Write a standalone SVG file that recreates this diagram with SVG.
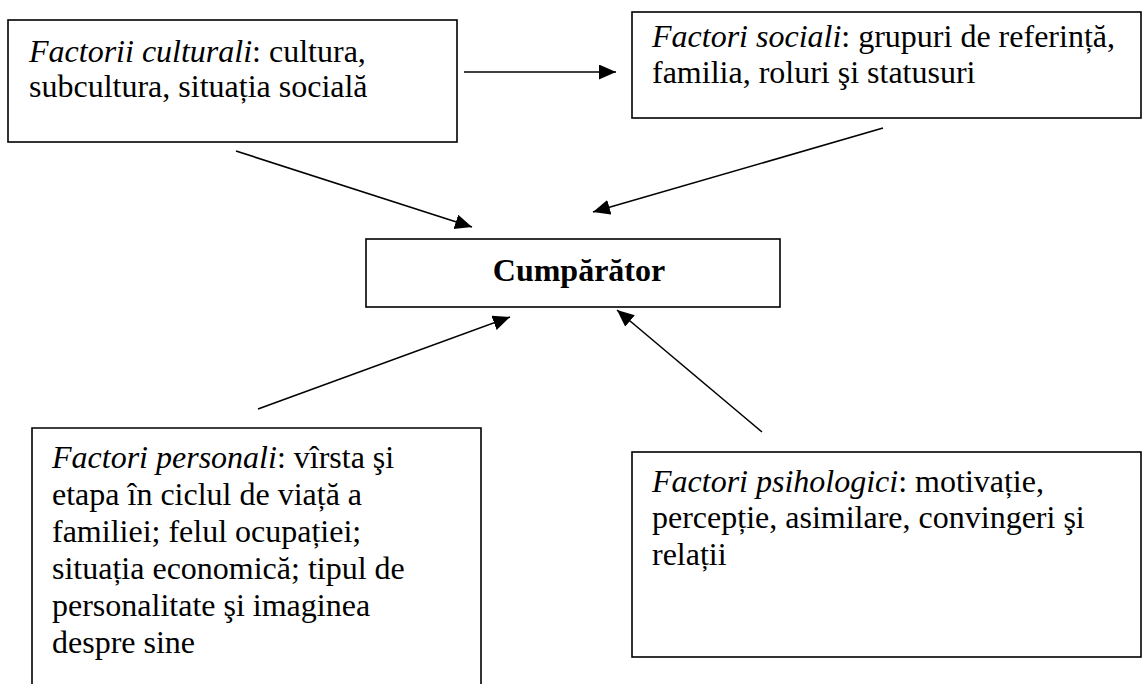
<svg xmlns="http://www.w3.org/2000/svg" width="1146" height="684" viewBox="0 0 1146 684">
<style>
.box{fill:#fff;stroke:#000;stroke-width:1.6}
.t{font-family:"Liberation Serif","Times New Roman",serif;font-size:32px;fill:#000}
.i{font-style:italic}
.b{font-weight:bold}
.c{stroke:#000;stroke-width:1.6;fill:none}
</style>
<defs>
<marker id="ah" markerUnits="userSpaceOnUse" markerWidth="18" markerHeight="16" refX="17" refY="7.5" orient="auto">
<path d="M0,0 L17,7.5 L0,15 z" fill="#000"/>
</marker>
</defs>
<rect width="1146" height="684" fill="#fff"/>
<g id="culturali">
<rect class="box" x="8" y="20" width="449" height="122"/>
<text class="t" x="29" y="62"><tspan class="i">Factorii culturali</tspan>: cultura,</text>
<text class="t" x="29" y="97">subcultura, situația socială</text>
</g>
<g id="sociali">
<rect class="box" x="632" y="12" width="509" height="106"/>
<text class="t" x="652" y="47"><tspan class="i">Factori sociali</tspan>: grupuri de referință,</text>
<text class="t" x="652" y="83">familia, roluri şi statusuri</text>
</g>
<g id="cumparator">
<rect class="box" x="366" y="239" width="414" height="68"/>
<text class="t b" x="579" y="281" text-anchor="middle">Cumpărător</text>
</g>
<g id="personali">
<path class="c" d="M32,690 L32,428 L481,428 L481,690"/>
<text class="t" x="52" y="468"><tspan class="i">Factori personali</tspan>: vîrsta şi</text>
<text class="t" x="52" y="505">etapa în ciclul de viață a</text>
<text class="t" x="52" y="542">familiei; felul ocupației;</text>
<text class="t" x="52" y="579">situația economică; tipul de</text>
<text class="t" x="52" y="616">personalitate şi imaginea</text>
<text class="t" x="52" y="653">despre sine</text>
</g>
<g id="psihologici">
<rect class="box" x="632" y="452" width="509" height="205"/>
<text class="t" x="652" y="492"><tspan class="i">Factori psihologici</tspan>: motivație,</text>
<text class="t" x="652" y="528">percepție, asimilare, convingeri şi</text>
<text class="t" x="652" y="565">relații</text>
</g>
<g id="connectors">
<line class="c" x1="464" y1="72" x2="616" y2="72" marker-end="url(#ah)"/>
<line class="c" x1="236" y1="151" x2="472" y2="227" marker-end="url(#ah)"/>
<line class="c" x1="883" y1="128" x2="593" y2="212" marker-end="url(#ah)"/>
<line class="c" x1="258" y1="409" x2="510" y2="317" marker-end="url(#ah)"/>
<line class="c" x1="762" y1="432" x2="617" y2="310" marker-end="url(#ah)"/>
</g>
</svg>
